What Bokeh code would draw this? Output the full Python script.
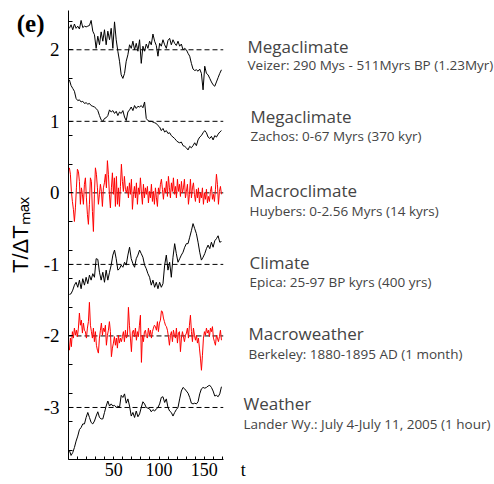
import numpy as np
from bokeh.plotting import figure
from bokeh.models import Range1d, Label, FixedTicker, LinearAxis
from bokeh.embed import file_html
from bokeh.resources import INLINE

# ---- data: six normalised temperature series, T / dT_max, offset by level ----
veizer = [2.30, 2.35, 2.28, 2.36, 2.30, 2.33, 2.29, 2.41, 2.31, 2.33,
          2.32, 2.33, 2.34, 2.41, 2.26, 2.21, 2.02, 2.19, 2.07, 2.25,
          2.12, 2.28, 2.07, 2.26, 2.14, 2.30, 2.02, 2.39, 2.14, 1.98,
          1.84, 1.65, 1.60, 1.67, 1.84, 1.93, 2.07, 2.02, 2.12, 2.00,
          2.09, 1.98, 2.14, 1.81, 2.05, 1.98, 2.08, 2.02, 2.12, 2.07,
          2.22, 2.12, 2.06, 1.91, 2.09, 2.05, 2.14, 2.07, 2.02, 2.13,
          2.16, 2.07, 2.14, 2.09, 2.06, 2.12, 2.05, 2.08, 2.00, 2.02,
          2.00, 1.95, 1.91, 1.81, 1.73, 1.71, 1.72, 1.70, 1.73, 1.67,
          1.44, 1.77, 1.67, 1.65, 1.60, 1.55, 1.51, 1.49, 1.55, 1.61,
          1.67, 1.72]

zachos = [1.58, 1.50, 1.46, 1.42, 1.32, 1.29, 1.30, 1.27, 1.28, 1.25,
          1.26, 1.24, 1.25, 1.22, 1.21, 1.20, 1.18, 1.15, 1.08, 1.02,
          1.00, 1.04, 1.05, 1.08, 1.16, 1.13, 1.15, 1.11, 1.14, 1.08,
          1.13, 1.11, 1.15, 1.06, 1.01, 1.13, 1.16, 1.20, 1.15, 1.22,
          1.18, 1.21, 1.20, 1.22, 1.19, 1.27, 1.04, 1.01, 1.00, 1.00,
          0.99, 0.98, 0.97, 0.94, 0.92, 0.87, 0.90, 0.85, 0.87, 0.83,
          0.84, 0.80, 0.78, 0.76, 0.73, 0.71, 0.70, 0.71, 0.66, 0.65,
          0.63, 0.60, 0.65, 0.63, 0.66, 0.70, 0.66, 0.74, 0.78, 0.80,
          0.84, 0.87, 0.84, 0.78, 0.76, 0.79, 0.74, 0.80, 0.78, 0.82,
          0.85, 0.87]

huybers = [0.35, 0.26, 0.02, -0.12, -0.23, -0.40, -0.21, 0.07, 0.33, 0.30,
           0.16, -0.16, 0.07, -0.02, -0.16, 0.12, 0.21, -0.07, -0.30, -0.44,
           -0.16, 0.21, 0.16, -0.26, -0.54, -0.02, 0.35, 0.26, 0.07, -0.16,
           -0.02, 0.12, 0.02, -0.19, 0.07, 0.14, 0.26, 0.07, 0.45, 0.26,
           -0.02, -0.21, 0.07, 0.28, -0.02, 0.21, -0.19, 0.23, -0.16, 0.07,
           -0.19, 0.09, 0.40, 0.16, 0.02, 0.23, 0.05, 0.00, 0.09, -0.07,
           0.14, -0.02, 0.19, -0.23, -0.02, 0.09, -0.07, 0.14, -0.16, 0.07,
           -0.02, 0.21, 0.00, -0.16, 0.12, -0.07, 0.07, -0.02, 0.09, -0.14,
           0.02, -0.07, 0.12, -0.12, 0.02, -0.16, 0.07, -0.07, -0.19, 0.07,
           -0.02, 0.12, 0.19, 0.05, -0.09, 0.07, 0.00, 0.16, -0.05, 0.23,
           0.07, -0.07, 0.14, 0.02, 0.21, -0.02, 0.09, -0.07, 0.19, 0.02,
           0.12, -0.05, 0.16, 0.00, 0.07, 0.19, -0.07, 0.02, 0.12, -0.16,
           -0.02, 0.19, -0.07, 0.07, 0.14, -0.02, -0.12, 0.05, -0.07, 0.07,
           -0.14, 0.00, -0.07, 0.07, -0.16, 0.00, -0.09, 0.05, -0.14, -0.05,
           -0.12, 0.02, 0.09, -0.09, -0.02, -0.12, 0.05, 0.26, 0.12, -0.16,
           0.02, 0.09, -0.02]

epica = [-1.42, -1.41, -1.36, -1.29, -1.25, -1.32, -1.22, -1.34, -1.20, -1.29,
         -1.18, -1.27, -1.15, -1.22, -1.13, -1.18, -0.92, -0.93, -1.11, -1.22,
         -1.11, -1.25, -1.08, -1.22, -1.11, -1.01, -0.87, -0.80, -0.92, -1.08,
         -1.06, -1.01, -1.04, -0.97, -1.01, -0.87, -0.76, -0.92, -0.99, -1.04,
         -0.92, -0.87, -0.80, -0.85, -0.90, -1.01, -1.06, -1.13, -1.18, -1.29,
         -1.22, -1.32, -1.25, -1.34, -1.25, -1.32, -1.27, -1.01, -0.87, -1.08,
         -0.97, -1.18, -0.90, -0.71, -0.85, -0.97, -0.92, -0.87, -0.83, -0.76,
         -0.71, -0.71, -0.62, -0.53, -0.43, -0.50, -0.57, -0.69, -0.83, -0.94,
         -0.90, -0.85, -0.78, -0.73, -0.78, -0.69, -0.76, -0.67, -0.64, -0.60,
         -0.69, -0.68]

berkeley = [-2.20, -2.03, -2.15, -1.94, -2.03, -1.89, -1.99, -1.92, -2.01, -1.89,
            -1.68, -1.85, -1.78, -1.96, -1.82, -1.92, -1.94, -2.03, -1.89, -1.80,
            -1.53, -1.85, -1.94, -2.03, -1.89, -2.08, -1.94, -2.13, -2.20, -2.24,
            -2.03, -1.92, -1.82, -1.99, -1.89, -1.94, -1.85, -2.13, -1.99, -1.92,
            -1.80, -1.94, -2.29, -2.17, -2.10, -2.01, -2.13, -2.03, -2.17, -1.99,
            -2.10, -2.03, -2.08, -2.01, -1.94, -2.08, -1.92, -2.03, -1.99, -1.60,
            -1.85, -2.03, -2.22, -1.94, -1.92, -2.01, -1.89, -2.06, -1.94, -2.01,
            -1.85, -1.71, -2.37, -1.99, -2.08, -1.94, -1.92, -2.01, -2.03, -1.89,
            -1.99, -1.92, -2.03, -1.94, -1.89, -1.85, -1.87, -1.92, -1.80, -1.94,
            -1.82, -1.78, -1.65, -1.66, -1.75, -1.80, -1.85, -1.87, -1.92, -2.01,
            -2.13, -1.99, -1.94, -2.08, -1.92, -1.99, -2.03, -1.89, -2.10, -1.96,
            -1.94, -2.22, -2.03, -1.94, -2.01, -2.08, -1.99, -1.96, -1.89, -2.03,
            -1.85, -1.71, -1.94, -2.08, -1.89, -1.99, -2.06, -1.99, -2.10, -2.03,
            -2.17, -2.31, -2.48, -2.27, -2.03, -1.94, -1.99, -1.89, -1.96, -1.92,
            -2.01, -1.89, -1.94, -1.87, -2.03, -2.08, -2.13, -1.99, -2.03, -2.08,
            -2.01, -1.92, -2.06]

lander = [-3.60, -3.67, -3.63, -3.56, -3.47, -3.40, -3.31, -3.28, -3.23, -3.23,
          -3.14, -3.07, -3.14, -3.21, -3.23, -3.19, -3.12, -3.06, -3.14, -3.16,
          -3.16, -3.07, -2.98, -2.91, -2.98, -2.95, -2.98, -2.97, -3.00, -2.98,
          -3.00, -2.83, -2.86, -2.81, -2.94, -2.88, -2.98, -3.12, -3.07, -3.14,
          -3.05, -3.13, -3.09, -3.00, -2.92, -2.95, -3.00, -3.01, -3.02, -3.06,
          -3.03, -3.05, -3.02, -3.00, -2.95, -2.86, -2.85, -2.93, -2.88, -3.00,
          -3.05, -3.07, -3.12, -3.07, -3.03, -3.00, -2.88, -2.77, -2.72, -2.74,
          -2.77, -2.80, -2.86, -2.94, -2.95, -2.94, -2.95, -2.92, -2.81, -2.74,
          -2.72, -2.73, -2.72, -2.70, -2.69, -2.72, -2.77, -2.84, -2.83, -2.85,
          -2.81, -2.71]

series = [veizer, zachos, huybers, epica, berkeley, lander]
levels = [2, 1, 0, -1, -2, -3]
colors = ["black", "black", "red", "black", "red", "black"]
titles = ["Megaclimate", "Megaclimate", "Macroclimate", "Climate",
          "Macroweather", "Weather"]
subtitles = ["Veizer: 290 Mys - 511Myrs BP (1.23Myr)",
             "Zachos: 0-67 Myrs (370 kyr)",
             "Huybers: 0-2.56 Myrs (14 kyrs)",
             "Epica: 25-97 BP kyrs (400 yrs)",
             "Berkeley: 1880-1895 AD (1 month)",
             "Lander Wy.: July 4-July 11, 2005 (1 hour)"]
x_ticks = [50, 100, 150]
y_minor = [round(-3.6 + 0.4 * i, 1) for i in range(16)]
T_LABEL_AT = 193          # where the "t" axis name sits along the x axis
PANEL_TAG_AT = 2.37       # height of the "(e)" panel tag

# ---- layout ----
W, H = 494, 484
LEFT, TOP, BOTTOM = 68, 10, 25
X_END = 470.7
PX_PER_UNIT_Y = 71.54
Y_HI = 2.549
Y_LO = Y_HI - (H - TOP - BOTTOM) / PX_PER_UNIT_Y
px_per_x = (W - LEFT) / X_END


def cx(px):
    """canvas pixel column -> data x (annotation placement)"""
    return (px - LEFT) / px_per_x


def cy(py):
    """canvas pixel row -> data y (annotation placement)"""
    return Y_HI - (py - TOP) / PX_PER_UNIT_Y


p = figure(width=W, height=H, x_range=Range1d(0, X_END), y_range=Range1d(Y_LO, Y_HI),
           output_backend="svg", toolbar_location=None,
           x_axis_location=None, y_axis_location=None,
           min_border_left=LEFT, min_border_right=0, min_border_top=TOP,
           min_border_bottom=BOTTOM)
p.outline_line_color = None
p.grid.visible = False
p.background_fill_color = "white"
p.border_fill_color = "white"

T_MAX = 171
for vals, lvl, col in zip(series, levels, colors):
    t = np.linspace(1.0, 169.0, len(vals))
    p.line([0, T_MAX], [lvl, lvl], line_color="black", line_width=1, line_dash="5 3")
    p.line(t, vals, line_color=col, line_width=1)

SERIF = "Liberation Serif"

# x axis, inner part: the line and inward ticks over the data span
x_line = LinearAxis(bounds=(0, T_MAX),
                    ticker=FixedTicker(ticks=[], minor_ticks=list(range(0, 171, 10))),
                    axis_line_color="black", major_tick_in=0, major_tick_out=0,
                    minor_tick_in=3, minor_tick_out=0, major_label_standoff=0,
                    major_label_text_color=None)
# x axis, outer part: tick numbers plus the axis name "t"
x_text = LinearAxis(ticker=FixedTicker(ticks=x_ticks + [T_LABEL_AT], minor_ticks=[]),
                    axis_line_color=None, major_tick_in=0, major_tick_out=0,
                    major_label_overrides={T_LABEL_AT: "t"},
                    major_label_text_font=SERIF, major_label_text_font_size="18px",
                    major_label_text_color="black", major_label_standoff=0)
p.add_layout(x_line, "below")
p.add_layout(x_text, "below")

# y axis, inner part: line, inward ticks, integer labels
y_main = LinearAxis(ticker=FixedTicker(ticks=levels, minor_ticks=y_minor),
                    axis_line_color="black", major_tick_in=4, major_tick_out=0,
                    minor_tick_in=4, minor_tick_out=0,
                    major_label_text_font=SERIF, major_label_text_font_size="19px",
                    major_label_text_color="black", major_label_standoff=9,
                    major_label_overrides={-1: "-1", -2: "-2", -3: "-3"})
# y axis, outer part: panel tag "(e)" and the axis name
y_name = LinearAxis(ticker=FixedTicker(ticks=[PANEL_TAG_AT], minor_ticks=[]),
                    axis_line_color=None, major_tick_in=0, major_tick_out=0,
                    major_label_overrides={PANEL_TAG_AT: "(e)"},
                    major_label_text_font=SERIF, major_label_text_font_size="25px",
                    major_label_text_font_style="bold", major_label_text_color="black",
                    major_label_standoff=-4,
                    axis_label="T/\u0394T\u2098\u2090\u2093",
                    axis_label_text_font="Liberation Sans",
                    axis_label_text_font_style="normal",
                    axis_label_text_font_size="22px",
                    axis_label_text_color="black",
                    axis_label_standoff=-19)
p.add_layout(y_main, "left")
p.add_layout(y_name, "left")

# scale-regime annotations to the right of each series
SANS = "Open Sans"
title_x_px = [247, 250, 249, 249, 248, 243]
title_y_px = [46, 116, 190, 262, 333, 403]
sub_y_px = [64, 135, 210, 281, 353, 423]
for ttl, sub, xp, ty, sy in zip(titles, subtitles, title_x_px, title_y_px, sub_y_px):
    p.add_layout(Label(x=cx(xp), y=cy(ty), text=ttl, text_align="left",
                       text_baseline="middle", text_font=SANS, text_font_size="17px"))
    p.add_layout(Label(x=cx(xp), y=cy(sy), text=sub, text_align="left",
                       text_baseline="middle", text_font=SANS, text_font_size="13.5px"))

open("out.html", "w").write(file_html(p, INLINE))
